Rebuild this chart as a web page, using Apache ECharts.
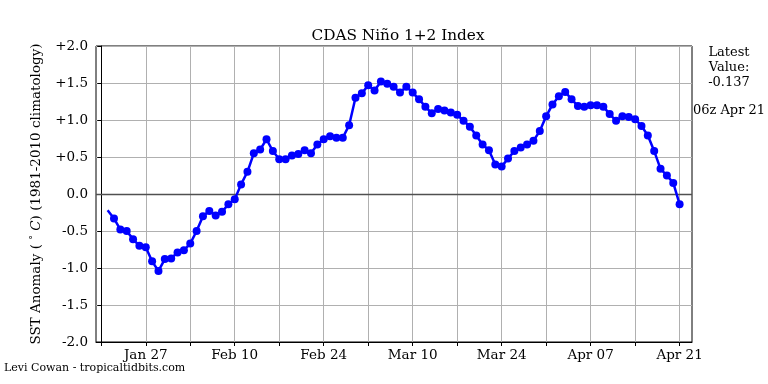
<!DOCTYPE html>
<html>
<head>
<meta charset="utf-8">
<script src="https://cdn.jsdelivr.net/npm/echarts@6/dist/echarts.min.js"></script>
<style>html,body{margin:0;padding:0;background:#fff}#c{width:768px;height:384px}</style>
</head>
<body>
<div id="c"></div>
<script>
// Daily values, 21 Jan 2025 .. 21 Apr 2025
const startDate = '2025-01-21';
const axisOrigin = '2025-01-20';
const sstAnomaly = [
  -0.22, -0.33, -0.48, -0.50, -0.61, -0.70, -0.72, -0.91, -1.04, -0.88, -0.87,
  -0.79, -0.76, -0.67, -0.50, -0.30, -0.23, -0.29, -0.24, -0.14, -0.07, 0.13,
  0.30, 0.55, 0.60, 0.74, 0.58, 0.47, 0.47, 0.52, 0.54, 0.59, 0.55, 0.67,
  0.74, 0.78, 0.76, 0.76, 0.93,
  1.30, 1.36, 1.47, 1.40, 1.52, 1.49, 1.45, 1.37, 1.45, 1.37, 1.28, 1.18,
  1.09, 1.15, 1.13, 1.10, 1.07, 0.99, 0.91, 0.79, 0.67, 0.59, 0.40, 0.37,
  0.48, 0.58, 0.63, 0.67, 0.72, 0.85,
  1.05, 1.21, 1.32, 1.38, 1.28, 1.19, 1.18, 1.20, 1.20, 1.18, 1.08, 0.99,
  1.05, 1.04, 1.01, 0.92, 0.79, 0.58, 0.34, 0.25, 0.15, -0.137
];
const yTickValues = [-2, -1.5, -1, -0.5, 0, 0.5, 1, 1.5, 2];
const yTickLabels = ['-2.0', '-1.5', '-1.0', '-0.5', '0.0', '+0.5', '+1.0', '+1.5', '+2.0'];
const xMinorTickDays = [0, 7, 14, 21, 28, 35, 42, 49, 56, 63, 70, 77, 84, 91];
const xLabelDays = [7, 21, 35, 49, 63, 77, 91];
const xLabels = ['Jan 27', 'Feb 10', 'Feb 24', 'Mar 10', 'Mar 24', 'Apr 07', 'Apr 21'];
const latestValue = '-0.137';
const latestTime = '06z Apr 21';

const DAY = 86400000;
const t0 = Date.parse(axisOrigin + 'T00:00:00Z');
const s0 = Date.parse(startDate + 'T00:00:00Z');
const offset = Math.round((s0 - t0) / DAY);
const seriesData = sstAnomaly.map((v, i) => {
  const d = { value: [offset + i, v] };
  if (i === 0) d.symbol = 'none';
  return d;
});

const FONT = 'DejaVu Serif';
const chart = echarts.init(document.getElementById('c'), null, { renderer: 'canvas' });
chart.setOption({
  backgroundColor: '#fff',
  animation: false,
  title: {
    text: 'CDAS Niño 1+2 Index',
    left: 393, top: 24, textAlign: 'center',
    textStyle: { fontFamily: FONT, fontSize: 15.3, fontWeight: 'normal', color: '#000' }
  },
  grid: { left: 96, right: 76, top: 46, bottom: 42, show: true, borderColor: '#000', borderWidth: 1, backgroundColor: 'transparent' },
  xAxis: {
    type: 'value', min: -0.83, max: 92.95,
    axisLine: { show: true, onZero: false, lineStyle: { color: '#000', width: 1 } },
    axisTick: { show: true, inside: false, length: 4, customValues: xMinorTickDays, lineStyle: { color: '#000' } },
    splitLine: { show: true, lineStyle: { color: '#b0b0b0', width: 1 } },
    axisLabel: {
      customValues: xLabelDays, margin: 6,
      fontFamily: FONT, fontSize: 13.5, color: '#000',
      formatter: v => { const k = xLabelDays.indexOf(v); return k >= 0 ? xLabels[k] : ''; }
    }
  },
  yAxis: {
    type: 'value', min: -2, max: 2, interval: 0.5,
    name: '{n|SST Anomaly ( }{d|°}{n| }{i|C}{n|) (1981-2010 climatology)}',
    nameLocation: 'middle', nameGap: 53, nameRotate: 90,
    nameTextStyle: {
      fontFamily: FONT, fontSize: 13.5, color: '#000',
      rich: {
        n: { fontFamily: FONT, fontSize: 13.5, color: '#000' },
        d: { fontFamily: FONT, fontSize: 9.5, color: '#000', verticalAlign: 'top', padding: [0, 0, 4, 0] },
        i: { fontFamily: FONT, fontSize: 13.5, fontStyle: 'italic', color: '#000' }
      }
    },
    axisLine: { show: true, lineStyle: { color: '#000', width: 1 } },
    axisTick: { show: true, inside: false, length: 4, lineStyle: { color: '#000' } },
    splitLine: { show: true, lineStyle: { color: '#b0b0b0', width: 1 } },
    axisLabel: {
      margin: 8, fontFamily: FONT, fontSize: 13.5, color: '#000',
      formatter: v => { const k = yTickValues.findIndex(t => Math.abs(t - v) < 1e-9); return k >= 0 ? yTickLabels[k] : ''; }
    }
  },
  series: [{
    type: 'line',
    data: seriesData,
    symbol: 'circle', symbolSize: 8,
    itemStyle: { color: '#0000ff' },
    lineStyle: { color: '#0000ff', width: 2.5 },
    z: 5,
    markLine: {
      silent: true, symbol: 'none', label: { show: false },
      lineStyle: { color: '#505050', width: 1.3, type: 'solid' },
      data: [{ yAxis: 0 }], z: 3
    }
  }],
  graphic: [
    { type: 'text', x: 729, y: 45, style: { text: 'Latest\nValue:\n' + latestValue, font: '13px "DejaVu Serif"', fill: '#000', textAlign: 'center', textVerticalAlign: 'top', lineHeight: 15 } },
    { type: 'text', x: 729, y: 104, style: { text: latestTime, font: '13px "DejaVu Serif"', fill: '#000', textAlign: 'center', textVerticalAlign: 'top' } },
    { type: 'text', x: 4, y: 363, style: { text: 'Levi Cowan - tropicaltidbits.com', font: '11px "DejaVu Serif"', fill: '#000' } }
  ]
});
</script>
</body>
</html>
